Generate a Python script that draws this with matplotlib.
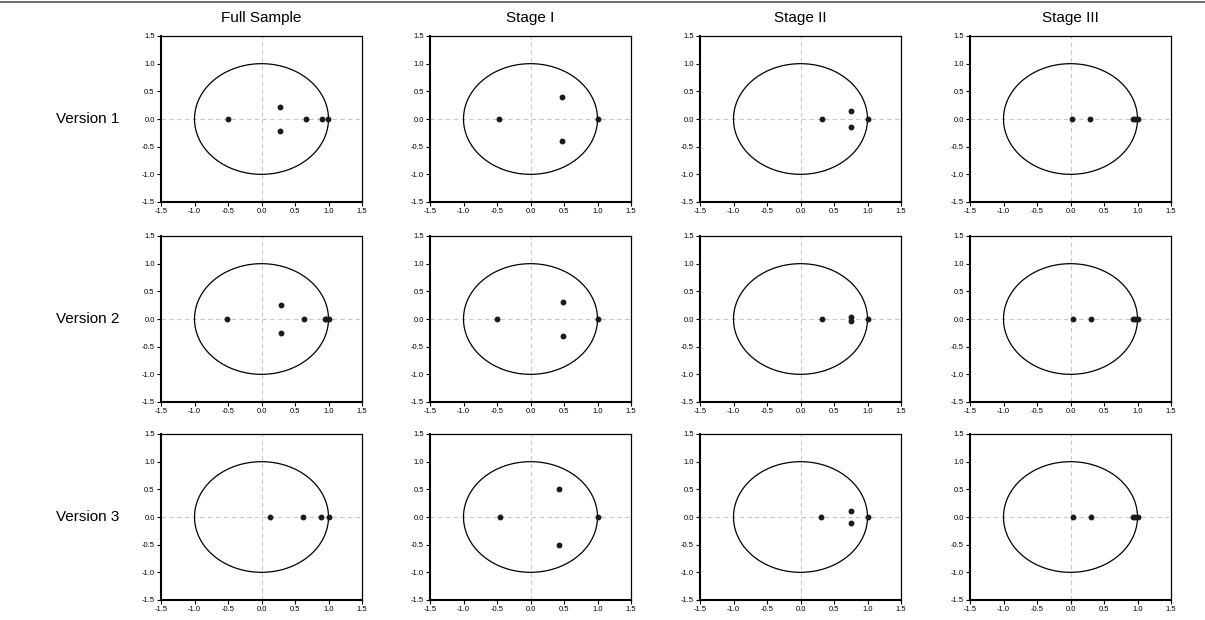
import numpy as np
import matplotlib
matplotlib.use("Agg")
import matplotlib.pyplot as plt
from matplotlib.lines import Line2D

plt.rcParams['font.family'] = ['Liberation Sans', 'DejaVu Sans']

columns = ["Full Sample", "Stage I", "Stage II", "Stage III"]
rows = ["Version 1", "Version 2", "Version 3"]
tick_vals = [-1.5, -1.0, -0.5, 0.0, 0.5, 1.0, 1.5]
tick_labels = ["-1.5", "-1.0", "-0.5", "0.0", "0.5", "1.0", "1.5"]

# Inverse roots: (real parts, imaginary parts) per panel
v1_full_re = [-0.50, 0.28, 0.28, 0.665, 0.90, 0.99]
v1_full_im = [0.0, 0.22, -0.22, 0.0, 0.0, 0.0]
v1_s1_re = [-0.47, 0.47, 0.47, 1.0]
v1_s1_im = [0.0, 0.40, -0.40, 0.0]
v1_s2_re = [0.325, 0.755, 0.755, 1.0]
v1_s2_im = [0.0, 0.146, -0.146, 0.0]
v1_s3_re = [0.025, 0.285, 0.94, 0.97, 1.0]
v1_s3_im = [0.0, 0.0, 0.0, 0.0, 0.0]

v2_full_re = [-0.52, 0.285, 0.285, 0.64, 0.945, 0.97, 1.0]
v2_full_im = [0.0, 0.256, -0.25, 0.0, 0.0, 0.0, 0.0]
v2_s1_re = [-0.495, 0.49, 0.49, 1.0]
v2_s1_im = [0.0, 0.31, -0.31, 0.0]
v2_s2_re = [0.32, 0.755, 0.755, 1.0]
v2_s2_im = [0.0, 0.045, -0.045, 0.0]
v2_s3_re = [0.03, 0.305, 0.93, 0.96, 1.0]
v2_s3_im = [0.0, 0.0, 0.0, 0.0, 0.0]

v3_full_re = [0.125, 0.625, 0.895, 1.0]
v3_full_im = [0.0, 0.0, 0.0, 0.0]
v3_s1_re = [-0.46, 0.42, 0.42, 1.0]
v3_s1_im = [0.0, 0.50, -0.50, 0.0]
v3_s2_re = [0.31, 0.75, 0.75, 1.0]
v3_s2_im = [0.0, 0.11, -0.11, 0.0]
v3_s3_re = [0.03, 0.30, 0.93, 0.96, 1.0]
v3_s3_im = [0.0, 0.0, 0.0, 0.0, 0.0]

panels = [
    [(v1_full_re, v1_full_im), (v1_s1_re, v1_s1_im), (v1_s2_re, v1_s2_im), (v1_s3_re, v1_s3_im)],
    [(v2_full_re, v2_full_im), (v2_s1_re, v2_s1_im), (v2_s2_re, v2_s2_im), (v2_s3_re, v2_s3_im)],
    [(v3_full_re, v3_full_im), (v3_s1_re, v3_s1_im), (v3_s2_re, v3_s2_im), (v3_s3_re, v3_s3_im)],
]

W, H = 1205, 620
fig = plt.figure(figsize=(W / 100, H / 100), dpi=100)

col_left = [161, 430, 700, 970]
row_top = [36, 236, 434]
aw, ah = 201, 166

theta = np.linspace(0, 2 * np.pi, 400)

for r in range(3):
    for c in range(4):
        ax = fig.add_axes([col_left[c] / W, 1 - (row_top[r] + ah) / H, aw / W, ah / H])
        ax.set_xlim(-1.5, 1.5)
        ax.set_ylim(-1.5, 1.5)
        ax.axhline(0, color="#c8c8c8", lw=0.8, ls=(0, (4, 3)), zorder=1)
        ax.axvline(0, color="#c8c8c8", lw=0.8, ls=(0, (4, 3)), zorder=1)
        ax.plot(np.cos(theta), np.sin(theta), color="black", lw=0.9, zorder=2)
        re, im = panels[r][c]
        ax.plot(re, im, ls="none", marker="o", ms=3.2, color="#1a1a1a", zorder=3)
        ax.set_xticks(tick_vals)
        ax.set_yticks(tick_vals)
        ax.set_xticklabels(tick_labels)
        ax.set_yticklabels(tick_labels)
        ax.tick_params(direction="out", length=3, width=0.8, labelsize=5.5, pad=1.5, colors="black")
        for side in ["top", "right"]:
            ax.spines[side].set_linewidth(0.9)
        for side in ["left", "bottom"]:
            ax.spines[side].set_linewidth(1.5)
        if r == 0:
            ax.set_title(columns[c], fontsize=11, pad=10)
        if c == 0:
            fig.text(88 / W, 1 - (row_top[r] + ah / 2) / H, rows[r], ha="center", va="center", fontsize=11)

fig.add_artist(Line2D([0, 1], [1 - 1.5 / H, 1 - 1.5 / H], color="#555555", lw=1.2))

fig.savefig("out.png", dpi=100, facecolor="white")
